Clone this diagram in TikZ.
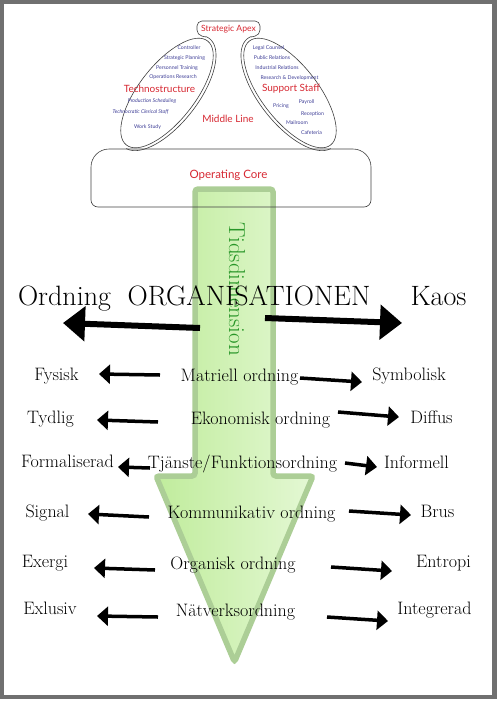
\documentclass[tikz,border=0pt]{standalone}
\usepackage{fontspec}
\newfontfamily\chartfont{Lato}
\usetikzlibrary{arrows.meta}
\definecolor{apexred}{RGB}{214,40,50}
\definecolor{staffblue}{RGB}{62,62,150}
\definecolor{arrowgreen}{RGB}{192,236,156}
\definecolor{arrowlight}{RGB}{228,248,212}
\definecolor{arrowedge}{RGB}{172,206,150}
\definecolor{timegreen}{RGB}{40,150,40}
\definecolor{framegray}{RGB}{112,112,112}

\begin{document}
\begin{tikzpicture}[x=1pt,y=-1pt,
    bigarrow/.style={line width=6pt,-{Triangle[length=22pt,width=34pt]}},
    smallarrow/.style={line width=3.5pt,-{Triangle[length=11pt,width=19pt]}},
    word/.style={font=\fontsize{18}{20}\selectfont,inner sep=0pt,anchor=base},
    headword/.style={font=\fontsize{28}{30}\selectfont,inner sep=0pt,anchor=base},
    role/.style={font=\chartfont\fontsize{10}{12}\selectfont,text=apexred,inner sep=0pt},
    unit/.style={font=\chartfont\fontsize{5.2}{6}\selectfont,text=staffblue,inner sep=0pt},
    outline/.style={black!75,line width=0.6pt}]
  \useasboundingbox (0,0) rectangle (499,702);
  \draw[framegray,line width=4.5pt] (2,2) rectangle (494.5,697);
  % time arrow
  \path[draw=arrowedge,line width=5.5pt,rounded corners=3pt,
    left color=arrowgreen,right color=arrowlight]
    (195,189) -- (273,189) -- (273,476) -- (313,476) -- (234.5,662)
    -- (156,476) -- (195,476) -- cycle;
  \node[rotate=-90,text=timegreen,font=\fontsize{23}{25}\selectfont,inner sep=0pt]
    (time) at (237,289) {Tidsdimension};
  % organisation chart
  \draw[outline,rounded corners=5pt] (206,37) -- (197,35) -- (197,21)
    -- (260,21) -- (260,35) -- (251,37);
  \draw[outline,rotate around={52:(167,93)}] (167,93) ellipse [x radius=66, y radius=28];
  \draw[outline,rotate around={-52:(290,93)}] (290,93) ellipse [x radius=66, y radius=28];
  \draw[outline] plot[domain=-8:176,samples=60]
    ({167+0.616*69*cos(\x)+0.788*31*sin(\x)},{93-0.788*69*cos(\x)+0.616*31*sin(\x)});
  \draw[outline] plot[domain=-8:176,samples=60]
    ({290-0.616*69*cos(\x)-0.788*31*sin(\x)},{93-0.788*69*cos(\x)+0.616*31*sin(\x)});
  \draw[outline] (91,192) [rounded corners=18pt] -- (91,149) -- (371,149)
    [rounded corners=7pt] -- (371,207) -- (91,207) -- (91,190);
  \node[role,font=\chartfont\fontsize{8.6}{10}\selectfont] (apex) at (228.5,29) {Strategic Apex};
  \node[role] (techno) at (159.5,89) {Technostructure};
  \node[role] (support) at (291,89) {Support Staff};
  \node[role] (middle) at (228,119) {Middle Line};
  \node[role,font=\chartfont\fontsize{11.5}{13}\selectfont] (core) at (228.5,175) {Operating Core};
  \node[unit] (controller) at (189,48) {Controller};
  \node[unit] (planning) at (184.5,58) {Strategic Planning};
  \node[unit] (training) at (177,68) {Personnel Training};
  \node[unit] (research) at (173,77) {Operations Research};
  \node[unit,font=\chartfont\itshape\fontsize{5.2}{6}\selectfont] (scheduling) at (152,101) {Production Scheduling};
  \node[unit,font=\chartfont\itshape\fontsize{5.2}{6}\selectfont] (clerical) at (140.5,112) {Technocratic Clerical Staff};
  \node[unit] (workstudy) at (147.5,127) {Work Study};
  \node[unit] (counsel) at (268.5,48) {Legal Counsel};
  \node[unit] (public) at (272,58) {Public Relations};
  \node[unit] (industrial) at (277,68) {Industrial Relations};
  \node[unit] (development) at (289.5,78) {Research \& Development};
  \node[unit] (pricing) at (281,106) {Pricing};
  \node[unit] (payroll) at (306.5,102) {Payroll};
  \node[unit] (reception) at (312.5,114) {Reception};
  \node[unit] (mailroom) at (297,123) {Mailroom};
  \node[unit] (cafeteria) at (311.5,133) {Cafeteria};
  % order and chaos
  \node[headword] (ordning) at (64.5,305) {Ordning};
  \node[headword] (org) at (249,305) {ORGANISATIONEN};
  \node[headword] (kaos) at (438.5,305) {Kaos};
  \coordinate (orgl) at (200,328); \coordinate (ordningr) at (63,323);
  \coordinate (orgr) at (265,318); \coordinate (kaosl) at (402,323);
  \draw[bigarrow] (orgl) -- (ordningr);
  \draw[bigarrow] (orgr) -- (kaosl);
  % rows
  \node[word] (fysisk) at (56.5,380) {Fysisk};
  \node[word] (matriell) at (239.5,381) {Matriell ordning};
  \node[word] (symbolisk) at (409,380) {Symbolisk};
  \node[word] (tydlig) at (50.5,423) {Tydlig};
  \node[word] (ekonomisk) at (260.5,424) {Ekonomisk ordning};
  \node[word] (diffus) at (431.5,423) {Diffus};
  \node[word] (formal) at (67.5,467) {Formaliserad};
  \node[word] (tjanste) at (242.5,468) {Tjänste/Funktionsordning};
  \node[word] (informell) at (416.5,468) {Informell};
  \node[word] (signal) at (47.5,517) {Signal};
  \node[word] (kommunikativ) at (251.5,518) {Kommunikativ ordning};
  \node[word] (brus) at (437.5,517) {Brus};
  \node[word] (exergi) at (45,567) {Exergi};
  \node[word] (organisk) at (233,569) {Organisk ordning};
  \node[word] (entropi) at (443.5,567) {Entropi};
  \node[word] (exlusiv) at (50,614) {Exlusiv};
  \node[word] (natverk) at (235.5,616) {Nätverksordning};
  \node[word] (integrerad) at (434.5,614) {Integrerad};
  \coordinate (matriellw) at (160,375); \coordinate (fysiske) at (99,374);
  \coordinate (matrielle) at (300,378); \coordinate (symbolw) at (362,382);
  \coordinate (ekonomw) at (158,422); \coordinate (tydlige) at (97,420);
  \coordinate (ekonome) at (338,412); \coordinate (diffusw) at (399,417);
  \coordinate (tjanstew) at (150,468); \coordinate (formale) at (118,467);
  \coordinate (tjanstee) at (345,463); \coordinate (informw) at (377,467);
  \coordinate (kommw) at (149,517); \coordinate (signale) at (88,514);
  \coordinate (komme) at (349,511); \coordinate (brusw) at (411,515);
  \coordinate (organw) at (155,570); \coordinate (exergie) at (94,568);
  \coordinate (organe) at (331,567); \coordinate (entropw) at (392,571);
  \coordinate (natverkw) at (158,617); \coordinate (exlusive) at (97,616);
  \coordinate (natverke) at (327,617); \coordinate (integrw) at (388,621);
  \draw[smallarrow] (matriellw) -- (fysiske);
  \draw[smallarrow] (matrielle) -- (symbolw);
  \draw[smallarrow] (ekonomw) -- (tydlige);
  \draw[smallarrow] (ekonome) -- (diffusw);
  \draw[smallarrow] (tjanstew) -- (formale);
  \draw[smallarrow] (tjanstee) -- (informw);
  \draw[smallarrow] (kommw) -- (signale);
  \draw[smallarrow] (komme) -- (brusw);
  \draw[smallarrow] (organw) -- (exergie);
  \draw[smallarrow] (organe) -- (entropw);
  \draw[smallarrow] (natverkw) -- (exlusive);
  \draw[smallarrow] (natverke) -- (integrw);
\end{tikzpicture}
\end{document}
